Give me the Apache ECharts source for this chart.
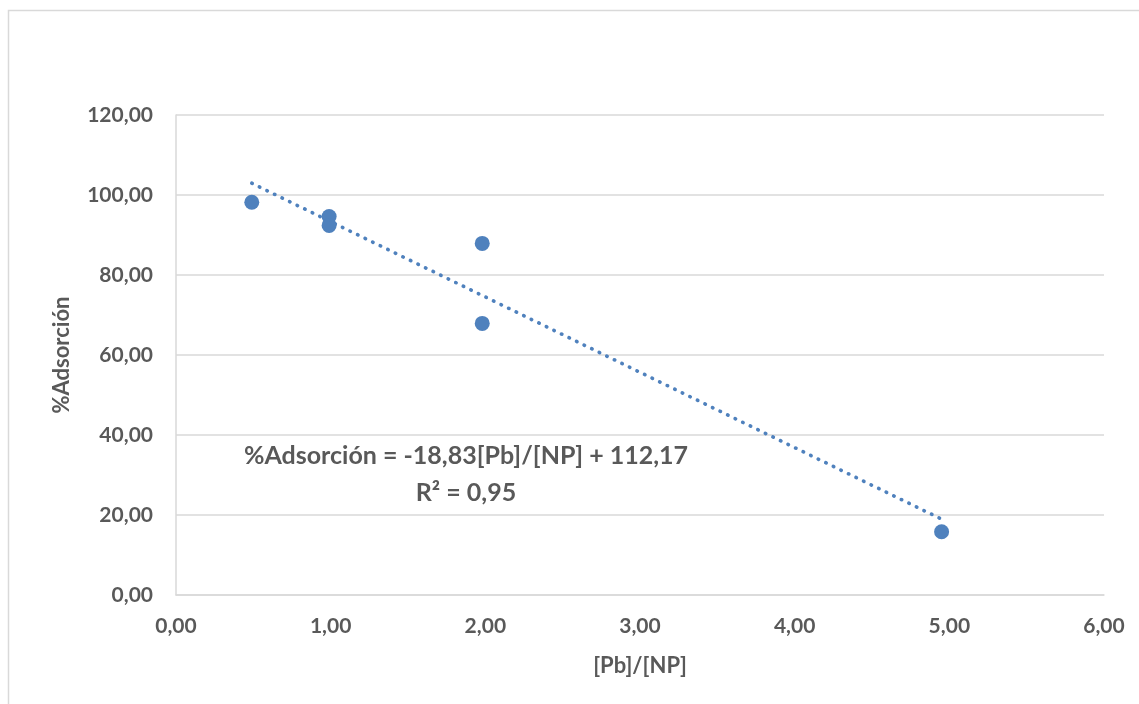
<!DOCTYPE html>
<html>
<head>
<meta charset="utf-8">
<style>
  html, body { margin: 0; padding: 0; background: #ffffff; }
  #chart { width: 1139px; height: 704px; }
</style>
<script src="https://cdn.jsdelivr.net/npm/echarts@6/dist/echarts.min.js"></script>
</head>
<body>
<div id="chart"></div>
<script>
// Measured ratios [Pb]/[NP] and the resulting adsorption percentages
const ratioPbNP = [0.49, 0.99, 0.99, 1.98, 1.98, 4.95];
const adsorptionPct = [98.2, 94.6, 92.4, 87.9, 67.9, 15.8];

// Linear fit reported on the chart
const fitSlope = -18.83;
const fitIntercept = 112.17;
const fitR2 = 0.95;

// Axis ticks
const xTicks = [0, 1, 2, 3, 4, 5, 6];
const yTicks = [0, 20, 40, 60, 80, 100, 120];

const fmt = (v, d) => v.toFixed(d).replace('.', ',');

const points = ratioPbNP.map((x, i) => [x, adsorptionPct[i]]);
const xFitStart = Math.min(...ratioPbNP);
const xFitEnd = Math.max(...ratioPbNP);
const fitLine = [xFitStart, xFitEnd].map(x => [x, fitSlope * x + fitIntercept]);

const textColor = '#595959';
const gridColor = '#d9d9d9';
const markColor = '#4f81bd';
const fontFamily = 'Lato, "Open Sans", sans-serif';

const chart = echarts.init(document.getElementById('chart'), null, { renderer: 'canvas' });

chart.setOption({
  animation: false,
  backgroundColor: '#ffffff',
  textStyle: { fontFamily: fontFamily },
  grid: { left: 176, top: 115, right: 35, bottom: 109, containLabel: false },
  xAxis: {
    type: 'value',
    min: xTicks[0],
    max: xTicks[xTicks.length - 1],
    interval: xTicks[1] - xTicks[0],
    name: '[Pb]/[NP]',
    nameLocation: 'middle',
    nameGap: 60,
    nameTextStyle: { color: textColor, fontSize: 22, fontWeight: 'bold', fontFamily: fontFamily },
    axisLine: { show: true, lineStyle: { color: gridColor, width: 1.5 } },
    axisTick: { show: false },
    splitLine: { show: false },
    axisLabel: {
      color: textColor, fontSize: 21, fontWeight: 'bold', fontFamily: fontFamily,
      margin: 21,
      formatter: v => fmt(v, 2)
    }
  },
  yAxis: {
    type: 'value',
    min: yTicks[0],
    max: yTicks[yTicks.length - 1],
    interval: yTicks[1] - yTicks[0],
    name: '%Adsorción',
    nameLocation: 'middle',
    nameGap: 103,
    nameRotate: 90,
    nameTextStyle: { color: textColor, fontSize: 22, fontWeight: 'bold', fontFamily: fontFamily },
    axisLine: { show: true, lineStyle: { color: gridColor, width: 1.5 } },
    axisTick: { show: false },
    splitLine: { show: true, lineStyle: { color: gridColor, width: 1.5 } },
    axisLabel: {
      color: textColor, fontSize: 21, fontWeight: 'bold', fontFamily: fontFamily,
      margin: 23,
      formatter: v => fmt(v, 2)
    }
  },
  graphic: [
    {
      type: 'rect',
      silent: true,
      z: -10,
      shape: { x: 8.5, y: 10.5, width: 1200, height: 800 },
      style: { fill: 'none', stroke: gridColor, lineWidth: 1.5 }
    },
    {
      type: 'text',
      silent: true,
      x: 466, y: 456,
      style: {
        text: '%Adsorción = ' + fmt(fitSlope, 2) + '[Pb]/[NP] + ' + fmt(fitIntercept, 2),
        fill: textColor, font: 'bold 25px ' + fontFamily,
        textAlign: 'center', textVerticalAlign: 'middle'
      }
    },
    {
      type: 'text',
      silent: true,
      x: 466, y: 493,
      style: {
        text: 'R² = ' + fmt(fitR2, 2),
        fill: textColor, font: 'bold 25px ' + fontFamily,
        textAlign: 'center', textVerticalAlign: 'middle'
      }
    }
  ],
  series: [
    {
      name: 'Adsorción',
      type: 'scatter',
      data: points,
      symbol: 'circle',
      symbolSize: 15,
      itemStyle: { color: markColor, opacity: 1 },
      z: 2
    },
    {
      name: 'Lineal',
      type: 'line',
      data: fitLine,
      symbol: 'none',
      lineStyle: { color: markColor, width: 3.6, type: [0.5, 7.9], cap: 'round', opacity: 1 },
      z: 3
    }
  ]
});
</script>
</body>
</html>
